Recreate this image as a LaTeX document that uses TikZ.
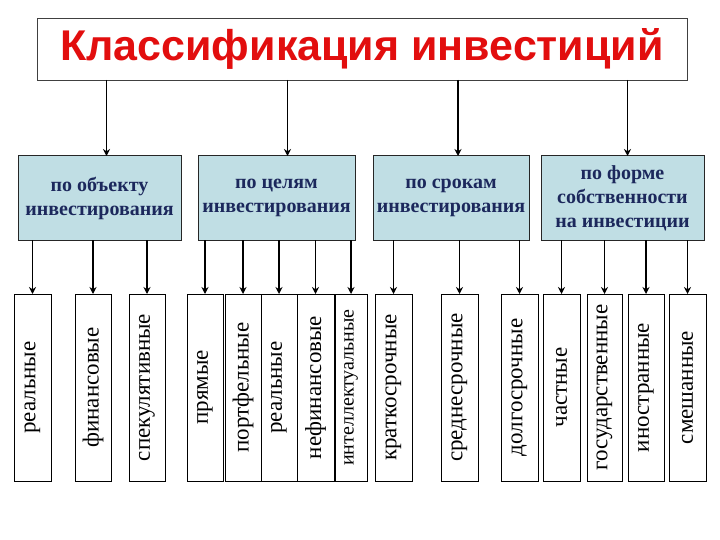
\documentclass[tikz,border=0pt]{standalone}
\usepackage{fontspec}
\setmainfont{Liberation Serif}
\setsansfont{Liberation Sans}
\usetikzlibrary{arrows.meta}
\definecolor{catfill}{RGB}{192,222,228}
\definecolor{cattext}{RGB}{28,40,92}
\definecolor{titlered}{RGB}{226,14,14}
\tikzset{
  >=Stealth,
  every node/.style={inner sep=0pt,outer sep=0pt},
  titlebox/.style={draw=black!75,fill=white,line width=0.8pt,
    minimum width=650pt,minimum height=62pt,text=titlered,
    font=\sffamily\bfseries\fontsize{43}{43}\selectfont},
  catbox/.style={draw=black!85,fill=catfill,line width=1pt,
    minimum height=84pt,align=center,text=cattext,
    font=\bfseries\fontsize{20}{24}\selectfont},
  leaf/.style={draw,fill=white,line width=0.8pt,minimum height=187pt,
    font=\fontsize{23}{23}\selectfont},
  link/.style={-{Stealth[length=7pt,width=7pt]},line width=1.6pt},
}
\begin{document}
\begin{tikzpicture}[x=1pt,y=-1pt]
  \useasboundingbox (0,0) rectangle (720,540);
  \node[titlebox] (title) at (362,49) {\raisebox{2pt}{Классификация инвестиций}};
  % categories
  \node[catbox,minimum width=163pt] (obj) at (99.5,198) {по объекту\\инвестирования};
  \node[catbox,minimum width=157pt] (goal) at (276.5,198) {по целям\\инвестирования};
  \node[catbox,minimum width=156pt] (term) at (451,198) {по срокам\\инвестирования};
  \node[catbox,minimum width=163pt] (own) at (622.5,198) {по форме\\собственности\\на инвестиции};
  \draw[link] ([xshift=7pt]obj.north |- title.south) -- ([xshift=7pt]obj.north);
  \draw[link] ([xshift=11pt]goal.north |- title.south) -- ([xshift=11pt]goal.north);
  \draw[link] ([xshift=7pt]term.north |- title.south) -- ([xshift=7pt]term.north);
  \draw[link] ([xshift=5pt]own.north |- title.south) -- ([xshift=5pt]own.north);
  % leaves
  \node[leaf,minimum width=37pt] (real) at (32.5,387.5) {\rotatebox{90}{реальные}};
  \node[leaf,minimum width=36pt] (fin) at (93,387.5) {\rotatebox{90}{финансовые}};
  \node[leaf,minimum width=36pt] (spec) at (147,387.5) {\rotatebox{90}{спекулятивные}};
  \node[leaf,minimum width=36pt] (direct) at (205,387.5) {\rotatebox{90}{прямые}};
  \node[leaf,minimum width=36pt] (port) at (243,387.5) {\rotatebox{90}{портфельные}};
  \node[leaf,minimum width=36pt] (real2) at (279,387.5) {\rotatebox{90}{реальные}};
  \node[leaf,minimum width=37pt] (nonfin) at (315.5,387.5) {\rotatebox{90}{нефинансовые}};
  \node[leaf,minimum width=32pt,font=\fontsize{20}{20}\selectfont] (intel) at (351,387.5) {\rotatebox{90}{интеллектуальные}};
  \node[leaf,minimum width=37pt] (short) at (393.5,387.5) {\rotatebox{90}{краткосрочные}};
  \node[leaf,minimum width=37pt] (mid) at (459.5,387.5) {\rotatebox{90}{среднесрочные}};
  \node[leaf,minimum width=37pt] (long) at (519.5,387.5) {\rotatebox{90}{долгосрочные}};
  \node[leaf,minimum width=37pt] (priv) at (561.5,387.5) {\rotatebox{90}{частные}};
  \node[leaf,minimum width=35pt] (state) at (604.5,387.5) {\rotatebox{90}{государственные}};
  \node[leaf,minimum width=36pt] (foreign) at (646,387.5) {\rotatebox{90}{иностранные}};
  \node[leaf,minimum width=37pt] (mixed) at (687.5,387.5) {\rotatebox{90}{смешанные}};
  \draw[link] (real.north |- obj.south) -- (real.north);
  \draw[link] (fin.north |- obj.south) -- (fin.north);
  \draw[link] (spec.north |- obj.south) -- (spec.north);
  \draw[link] (direct.north |- goal.south) -- (direct.north);
  \draw[link] (port.north |- goal.south) -- (port.north);
  \draw[link] (real2.north |- goal.south) -- (real2.north);
  \draw[link] (nonfin.north |- goal.south) -- (nonfin.north);
  \draw[link] (intel.north |- goal.south) -- (intel.north);
  \draw[link] (short.north |- term.south) -- (short.north);
  \draw[link] (mid.north |- term.south) -- (mid.north);
  \draw[link] (long.north |- term.south) -- (long.north);
  \draw[link] (priv.north |- own.south) -- (priv.north);
  \draw[link] (state.north |- own.south) -- (state.north);
  \draw[link] (foreign.north |- own.south) -- (foreign.north);
  \draw[link] (mixed.north |- own.south) -- (mixed.north);
\end{tikzpicture}
\end{document}
